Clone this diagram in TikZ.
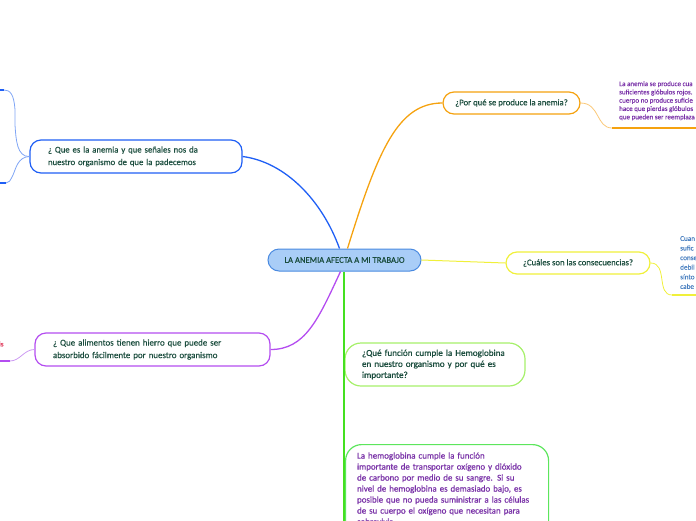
\documentclass[tikz,border=0pt]{standalone}
\usepackage{fontspec}
\setmainfont{Carlito}
\newfontfamily\medfont{Carlito}[FakeBold=0.3]
\newfontfamily\semifont{Carlito}[FakeBold=0.7]
\usetikzlibrary{calc}
\definecolor{tdark}{HTML}{1B4D3E}
\definecolor{tpurple}{HTML}{7A33A8}
\definecolor{tblue}{HTML}{4A80C0}
\definecolor{tred}{HTML}{E04060}
\definecolor{cfill}{HTML}{A9CDF7}
\definecolor{cline}{HTML}{4A8AE0}
\definecolor{cblue}{HTML}{1F5FF5}
\definecolor{cbluel}{HTML}{7FA5F5}
\definecolor{corange}{HTML}{F5A20F}
\definecolor{corangel}{HTML}{FAC878}
\definecolor{cyellow}{HTML}{F0F03A}
\definecolor{cpurple}{HTML}{B44DF0}
\definecolor{cpurplel}{HTML}{CC9AF2}
\definecolor{cgreen}{HTML}{44E020}
\definecolor{cgreen1}{HTML}{A6F06A}
\definecolor{cgreen2}{HTML}{5CE65C}
\begin{document}
\begin{tikzpicture}[x=1pt,y=-1pt,
  topicbox/.style={draw, line width=1.2pt, rounded corners=11pt, fill=white,
    inner ysep=0pt, align=left, text=tdark,
    font=\medfont\fontsize{8.7}{12.5}\selectfont},
  note/.style={anchor=north west, inner sep=0pt, align=left,
    font=\medfont\fontsize{7}{8.3}\selectfont},
  link/.style={line width=1.3pt},
  sublink/.style={line width=0.8pt},
  stub/.style={line width=2pt}]
\useasboundingbox (0,0) rectangle (696,520);
\clip (0,0) rectangle (696,520);

% central
\node[draw=cline, line width=1pt, fill=cfill, rounded corners=11pt,
  minimum width=153pt, minimum height=22pt, inner sep=0pt, text=tdark,
  font=\medfont\fontsize{8.6}{9}\selectfont] (c) at (344.5,260) {LA ANEMIA AFECTA A MI TRABAJO};

% topic boxes
\node[topicbox, draw=cblue, text width=176pt, inner xsep=18pt, minimum height=33pt]
  (q1) at (136,156.5) {¿ Que es la anemia y que señales nos da\\nuestro organismo de que la padecemos};
\node[topicbox, draw=corange, align=center, minimum width=137pt, minimum height=22pt, inner xsep=0pt]
  (q2) at (511.5,103) {¿Por qué se produce la anemia?};
\node[topicbox, draw=cyellow, align=center, minimum width=144pt, minimum height=22pt, inner xsep=0pt]
  (q3) at (578,263) {¿Cuáles son las consecuencias?};
\node[topicbox, draw=cpurple, text width=199pt, inner xsep=18pt, minimum height=33pt,
  font=\medfont\fontsize{8.9}{12.5}\selectfont]
  (q4) at (152.5,349.5) {¿ Que alimentos tienen hierro que puede ser\\absorbido fácilmente por nuestro organismo};
\node[topicbox, draw=cgreen1, text width=146pt, inner xsep=17pt, minimum height=43pt, rounded corners=16pt,
  font=\semifont\fontsize{9.1}{11}\selectfont]
  (q5) at (435,364.5) {¿Qué función cumple la Hemoglobina\\en nuestro organismo y por qué es\\importante?};
\node[topicbox, draw=cgreen2, text=tpurple, text width=180pt, inner xsep=11.5pt, minimum height=100pt,
  rounded corners=16pt, anchor=north west, inner ysep=0pt,
  font=\semifont\fontsize{8.9}{11}\selectfont]
  (q6) at (345,444) {\rule{0pt}{14pt}La hemoglobina cumple la función\\importante de transportar oxígeno y dióxido\\de carbono por medio de su sangre. Si su\\nivel de hemoglobina es demasiado bajo, es\\posible que no pueda suministrar a las células\\de su cuerpo el oxígeno que necesitan para\\sobrevivir.\rule[-30pt]{0pt}{30pt}};

% notes on the right and left
\node[note, text=tpurple] (n2) at (619,81) {La anemia se produce cua\\suficientes glóbulos rojos.\\cuerpo no produce suficie\\hace que pierdas glóbulos\\que pueden ser reemplaza};
\node[note, text=tblue, font=\medfont\fontsize{7.2}{9.6}\selectfont] (n3) at (680,236) {Cuan\\sufic\\conse\\debil\\sínto\\cabe};
\node[note, text=tred, anchor=west] (n4) at (-1,344) {is};

% connectors from center
\draw[link, cblue] ($(c.north)+(-5,0)$) .. controls (322,200) and (285,162) .. (q1.east);
\draw[link, corange] ($(c.north)+(3,0)$) .. controls (378,150) and (398,103) .. (q2.west);
\draw[sublink, cyellow, line width=1pt] (c.east) -- (q3.west);
\draw[link, cpurple] ($(c.south)+(-4,0)$) .. controls (318,320) and (305,349.5) .. (q4.east);
\coordinate (gend) at (344,525);
\draw[link, cgreen] ($(c.south)+(-0.5,0)$) -- (gend);

% sub connectors
\coordinate (o1) at (612,128);
\coordinate (o2) at (696,128);
\draw[sublink, corangel] (q2.east) .. controls (600,103) and (596,128) .. (o1);
\draw[stub, corange] (o1) -- (o2);
\coordinate (y1) at (672,295);
\coordinate (y2) at (696,295);
\draw[sublink, cyellow] (q3.east) .. controls (668,263) and (656,295) .. (y1);
\draw[stub, cyellow] (y1) -- (y2);
\coordinate (b1) at (0,90);
\coordinate (b2) at (0,183);
\draw[sublink, cbluel] (q1.west) .. controls (17,157) and (16,140) .. (15,125) -- (15,110) .. controls (14,94) and (10,90) .. (4,90);
\draw[stub, cblue] (4,90) -- (b1);
\draw[sublink, cbluel] (q1.west) .. controls (18,157) and (16,168) .. (13,175) .. controls (10,181) and (9,183) .. (6,183);
\draw[stub, cblue] (6,183) -- (b2);
\coordinate (p1) at (0,361);
\draw[sublink, cpurplel] (q4.west) .. controls (24,349.5) and (20,361) .. (10,361);
\draw[stub, cpurple] (10,361) -- (p1);
\end{tikzpicture}
\end{document}
